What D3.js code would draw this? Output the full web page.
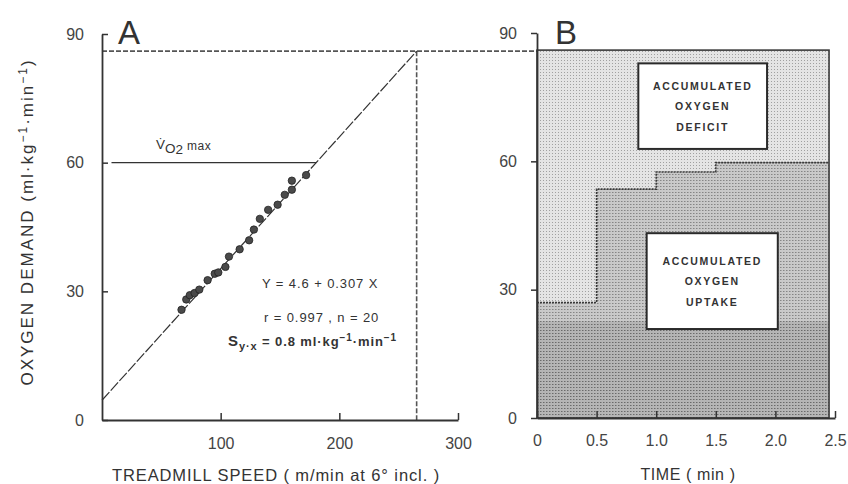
<!DOCTYPE html>
<html>
<head>
<meta charset="utf-8">
<script src="https://cdn.jsdelivr.net/npm/d3@7"></script>
<style>
  body { margin: 0; background: #fff; }
  svg { font-family: "Liberation Sans", Arial, sans-serif; }
</style>
</head>
<body>
<div id="graph"></div>
<script>
// Panel A data: treadmill speed vs oxygen uptake
var speeds = [67, 71, 74, 78, 82, 89, 95, 98, 104, 107, 116, 124, 128, 133, 140, 148, 154, 160, 160, 172];
var vo2 = [25.7, 28.1, 29.1, 29.6, 30.4, 32.6, 34.1, 34.4, 35.7, 38.1, 39.8, 41.9, 44.4, 46.9, 49.0, 50.2, 52.5, 53.7, 55.8, 57.1];
var fitIntercept = 4.6, fitSlope = 0.307;
var vo2max = 60, vo2maxStart = 8;
var demand = 86;

// Panel B data: oxygen uptake steps over time
var stepTimes = [0, 0.5, 1.0, 1.5, 2.45];
var stepUptake = [27, 53.5, 57.5, 59.7, 59.7];
var baseBand = 22.6;

// Tick values
var yTicks = [0, 30, 60, 90],
    xTicksA = [100, 200, 300],
    xTicksB = [0, 0.5, 1.0, 1.5, 2.0, 2.5];

var ink = '#333';

var svg = d3.select('#graph')
    .append('svg')
    .attr('width', 848)
    .attr('height', 484);

// Textures for panel B
var defs = svg.append('defs');
function dotPattern(id, base, dot, w, h, dw) {
    var p = defs.append('pattern')
        .attr('id', id)
        .attr('patternUnits', 'userSpaceOnUse')
        .attr('width', w).attr('height', h);
    p.append('rect').attr('width', w).attr('height', h).attr('fill', base);
    p.append('rect').attr('x', 0).attr('y', 0).attr('width', dw).attr('height', 1).attr('fill', dot);
}
dotPattern('deficitPat', '#e4e4e4', '#a0a0a0', 3, 3, 1);
dotPattern('uptakePat', '#c9c9c9', '#858585', 3, 3, 1.5);
dotPattern('bandPat', '#b5b5b5', '#6a6a6a', 3, 3, 1.5);

// Scales
var xA = d3.scaleLinear().domain([0, 300]).range([102, 458]),
    yA = d3.scaleLinear().domain([0, 90]).range([420, 34]);
var xB = d3.scaleLinear().domain([0, 2.5]).range([537, 835]),
    yB = d3.scaleLinear().domain([0, 90]).range([418, 33]);

// ---------- Panel A ----------
var gA = svg.append('g');

// dashed guides at maximal demand
var speedAtDemand = (demand - fitIntercept) / fitSlope;
gA.append('line')
    .attr('x1', xA(0)).attr('x2', xB(0))
    .attr('y1', yA(demand)).attr('y2', yA(demand))
    .attr('stroke', '#555').attr('stroke-width', 1.6)
    .attr('stroke-dasharray', '5,2');
gA.append('line')
    .attr('x1', xA(speedAtDemand)).attr('x2', xA(speedAtDemand))
    .attr('y1', yA(demand)).attr('y2', yA(0))
    .attr('stroke', '#555').attr('stroke-width', 1.6)
    .attr('stroke-dasharray', '5,2');

// regression line
var fitLine = d3.line()
    .x(function(d) { return xA(d); })
    .y(function(d) { return yA(fitIntercept + fitSlope * d); });
gA.append('path')
    .attr('d', fitLine([0, speedAtDemand]))
    .attr('fill', 'none')
    .attr('stroke', ink).attr('stroke-width', 1.2)
    .attr('stroke-dasharray', '11,2');

// VO2max line
gA.append('line')
    .attr('x1', xA(vo2maxStart)).attr('x2', xA((vo2max - fitIntercept) / fitSlope))
    .attr('y1', yA(vo2max)).attr('y2', yA(vo2max))
    .attr('stroke', ink).attr('stroke-width', 1.4);

// points
gA.append('g')
    .selectAll('circle')
    .data(speeds)
    .enter()
    .append('circle')
        .attr('cx', function(d) { return xA(d); })
        .attr('cy', function(d, i) { return yA(vo2[i]); })
        .attr('r', 3.7)
        .attr('fill', '#4a4a4a')
        .attr('stroke', '#222')
        .attr('stroke-width', 0.8);

// axes
var yAxisA = d3.axisLeft(yA).tickValues(yTicks).tickSizeInner(-6).tickSizeOuter(0).tickPadding(18);
var xAxisA = d3.axisBottom(xA).tickValues(xTicksA).tickSizeInner(-7).tickSizeOuter(0).tickPadding(18);
gA.append('g').attr('transform', 'translate(' + xA(0) + ',0)').call(yAxisA);
gA.append('g').attr('transform', 'translate(0,' + yA(0) + ')').call(xAxisA);

// labels
gA.append('text')
    .attr('x', 118).attr('y', 44)
    .attr('font-size', 33).attr('fill', ink)
    .text('A');

var vLab = gA.append('text')
    .attr('x', 156).attr('y', 149)
    .attr('font-size', 13.5).attr('fill', ink);
vLab.append('tspan').text('V\u0307');
vLab.append('tspan').attr('dy', 4).text('O');
vLab.append('tspan').attr('dy', 1).text('2');
vLab.append('tspan').attr('dy', -4).attr('dx', 4).attr('font-size', 12).attr('letter-spacing', 0.5).text('max');

gA.append('text')
    .attr('x', 262).attr('y', 288)
    .attr('font-size', 13).attr('letter-spacing', 0.9).attr('fill', ink)
    .text('Y = 4.6 + 0.307 X');
gA.append('text')
    .attr('x', 264).attr('y', 322)
    .attr('font-size', 13).attr('letter-spacing', 0.9).attr('fill', ink)
    .text('r = 0.997 ,  n = 20');
var sLab = gA.append('text')
    .attr('x', 228).attr('y', 346)
    .attr('font-size', 13).attr('font-weight', 'bold').attr('letter-spacing', 0.9).attr('fill', ink);
sLab.append('tspan').attr('font-size', 15).text('S');
sLab.append('tspan').attr('dy', 4).attr('font-size', 11).text('y\u00b7x');
sLab.append('tspan').attr('dy', -4).text(' = 0.8 ml\u00b7kg');
sLab.append('tspan').attr('dy', -5).attr('font-size', 10).text('\u22121');
sLab.append('tspan').attr('dy', 5).text('\u00b7min');
sLab.append('tspan').attr('dy', -5).attr('font-size', 10).text('\u22121');

gA.append('text')
    .attr('x', 276).attr('y', 481)
    .attr('text-anchor', 'middle')
    .attr('font-size', 16.5).attr('letter-spacing', 0.9).attr('fill', ink)
    .text('TREADMILL SPEED ( m/min at 6\u00b0 incl. )');

var yTitle = gA.append('text')
    .attr('transform', 'translate(33,222) rotate(-90)')
    .attr('text-anchor', 'middle')
    .attr('font-size', 17).attr('letter-spacing', 2).attr('fill', ink);
yTitle.append('tspan').text('OXYGEN DEMAND (ml\u00b7kg');
yTitle.append('tspan').attr('dy', -6).attr('font-size', 12).text('\u22121');
yTitle.append('tspan').attr('dy', 6).text('\u00b7min');
yTitle.append('tspan').attr('dy', -6).attr('font-size', 12).text('\u22121');
yTitle.append('tspan').attr('dy', 6).text(')');

// ---------- Panel B ----------
var gB = svg.append('g');
var tEnd = stepTimes[stepTimes.length - 1];

// deficit (total demand) block
gB.append('rect')
    .attr('x', xB(0)).attr('y', yB(demand))
    .attr('width', xB(tEnd) - xB(0)).attr('height', yB(0) - yB(demand))
    .attr('fill', 'url(#deficitPat)');

// uptake steps
var steps = stepTimes.map(function(t, i) { return {t: t, v: stepUptake[i]}; });
var uptakeArea = d3.area()
    .curve(d3.curveStepAfter)
    .x(function(d) { return xB(d.t); })
    .y0(yB(0))
    .y1(function(d) { return yB(d.v); });
gB.append('path')
    .attr('d', uptakeArea(steps))
    .attr('fill', 'url(#uptakePat)');

gB.append('rect')
    .attr('x', xB(0)).attr('y', yB(baseBand))
    .attr('width', xB(tEnd) - xB(0)).attr('height', yB(0) - yB(baseBand))
    .attr('fill', 'url(#bandPat)');

var uptakeLine = d3.line()
    .curve(d3.curveStepAfter)
    .x(function(d) { return xB(d.t); })
    .y(function(d) { return yB(d.v); });
gB.append('path')
    .attr('d', uptakeLine(steps))
    .attr('fill', 'none')
    .attr('stroke', '#3a3a3a').attr('stroke-width', 1.6)
    .attr('stroke-dasharray', '2,1');

gB.append('rect')
    .attr('x', xB(0)).attr('y', yB(demand))
    .attr('width', xB(tEnd) - xB(0)).attr('height', yB(0) - yB(demand))
    .attr('fill', 'none')
    .attr('stroke', '#3a3a3a').attr('stroke-width', 1.6);

// label boxes
var boxes = [
    {t0: 0.85, t1: 1.93, top: 82.9, bottom: 62.9, lines: ['ACCUMULATED', 'OXYGEN', 'DEFICIT']},
    {t0: 0.92, t1: 2.02, top: 43.2, bottom: 20.8, lines: ['ACCUMULATED', 'OXYGEN', 'UPTAKE']}
];
boxes.forEach(function(b) {
    gB.append('rect')
        .attr('x', xB(b.t0)).attr('y', yB(b.top))
        .attr('width', xB(b.t1) - xB(b.t0)).attr('height', yB(b.bottom) - yB(b.top))
        .attr('fill', '#fff')
        .attr('stroke', '#2a2a2a').attr('stroke-width', 2);
    var cx = (xB(b.t0) + xB(b.t1)) / 2,
        cy = (yB(b.top) + yB(b.bottom)) / 2;
    b.lines.forEach(function(s, i) {
        gB.append('text')
            .attr('x', cx).attr('y', cy + (i - 1) * 20.5 + 4)
            .attr('text-anchor', 'middle')
            .attr('font-size', 10.5).attr('font-weight', 'bold')
            .attr('letter-spacing', 1.7)
            .attr('fill', '#333')
            .text(s);
    });
});

var yAxisB = d3.axisLeft(yB).tickValues(yTicks).tickSizeInner(6).tickSizeOuter(0).tickPadding(14);
var xAxisB = d3.axisBottom(xB).tickValues(xTicksB).tickSizeInner(-7).tickSizeOuter(0).tickPadding(17)
    .tickFormat(function(d) { return d === 0 ? '0' : d3.format('.1f')(d); });
gB.append('g').attr('transform', 'translate(' + xB(0) + ',0)').call(yAxisB);
gB.append('g').attr('transform', 'translate(0,' + yB(0) + ')').call(xAxisB);

gB.append('text')
    .attr('x', 555).attr('y', 44)
    .attr('font-size', 33).attr('fill', ink)
    .text('B');

gB.append('text')
    .attr('x', 688).attr('y', 480)
    .attr('text-anchor', 'middle')
    .attr('font-size', 16).attr('letter-spacing', 0.6).attr('fill', ink)
    .text('TIME ( min )');

// Axis styling
svg.selectAll('.domain').attr('stroke', ink).attr('stroke-width', 1.8);
svg.selectAll('.tick line').attr('stroke', ink).attr('stroke-width', 1.5);
svg.selectAll('.tick text')
    .attr('font-family', '"Liberation Sans", Arial, sans-serif')
    .attr('font-size', 16).attr('fill', '#444');
</script>
</body>
</html>
